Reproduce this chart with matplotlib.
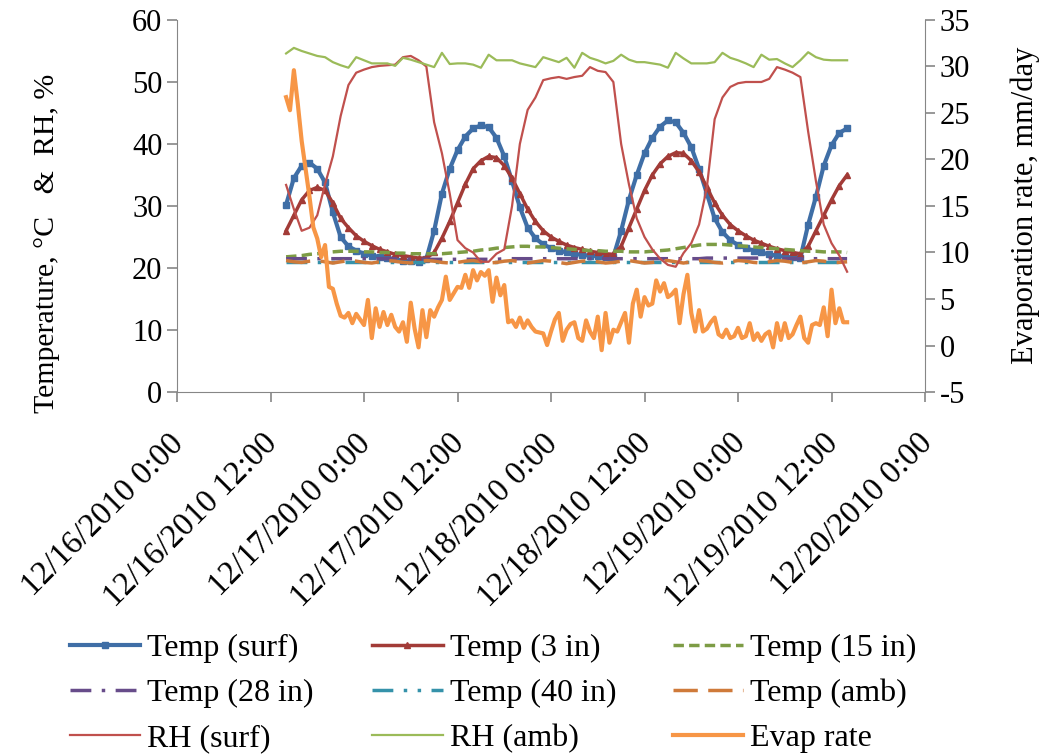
import numpy as np
import pandas as pd
import matplotlib
matplotlib.use('Agg')
import matplotlib.pyplot as plt
import matplotlib.transforms as mtransforms

plt.rcParams['font.family'] = ['Liberation Serif', 'DejaVu Serif']

# hourly readings, 12/16 14:00 -> 12/19 14:00
temp_surf = [30.2, 34.5, 36.5, 37.0, 36.0, 33.8, 29.0, 25.0, 23.5, 22.8,
             22.3, 22.0, 21.8, 21.6, 21.4, 21.2, 21.1, 21.0, 21.5, 26.0,
             32.0, 36.0, 39.0, 41.2, 42.5, 43.0, 42.7, 41.0, 38.0, 34.0,
             29.8, 26.5, 24.8, 23.8, 23.2, 22.8, 22.5, 22.3, 22.1, 22.0,
             21.9, 21.8, 21.8, 26.0, 31.0, 35.0, 38.5, 41.0, 42.8, 43.8,
             43.5, 41.8, 39.5, 36.0, 32.0, 28.0, 25.8, 24.5, 23.7, 23.2,
             22.8, 22.5, 22.2, 22.0, 21.8, 21.7, 21.6, 27.0, 31.5, 36.5,
             39.8, 41.8, 42.5]
temp_3in = [26.0, 28.5, 31.0, 32.5, 33.0, 32.5, 30.5, 28.0, 26.5, 25.2,
            24.3, 23.6, 23.0, 22.6, 22.2, 22.0, 21.8, 21.6, 21.6, 22.5,
            24.8, 27.5, 30.5, 33.5, 36.0, 37.3, 38.0, 37.8, 36.5, 34.5,
            32.0, 29.5, 27.5, 26.0, 25.0, 24.3, 23.7, 23.3, 23.0, 22.7,
            22.5, 22.3, 22.2, 23.5, 26.5, 29.5, 32.5, 35.0, 36.8, 38.0,
            38.6, 38.5, 37.3, 35.5, 33.0, 30.5, 28.5, 27.0, 26.0, 25.2,
            24.5, 24.0, 23.5, 23.1, 22.8, 22.5, 22.3, 23.5, 26.0, 28.5,
            31.0, 33.3, 35.0]
temp_15in = [21.8, 21.9, 22.0, 22.2, 22.3, 22.5, 22.6, 22.7, 22.7, 22.7,
             22.6, 22.6, 22.5, 22.5, 22.4, 22.4, 22.3, 22.3, 22.3, 22.3,
             22.3, 22.4, 22.5, 22.6, 22.7, 22.9, 23.0, 23.2, 23.3, 23.4,
             23.5, 23.5, 23.4, 23.4, 23.3, 23.2, 23.1, 23.0, 22.9, 22.8,
             22.8, 22.7, 22.7, 22.7, 22.6, 22.6, 22.6, 22.7, 22.8, 22.9,
             23.1, 23.3, 23.5, 23.7, 23.8, 23.8, 23.8, 23.7, 23.6, 23.5,
             23.4, 23.3, 23.2, 23.1, 23.0, 22.9, 22.8, 22.7, 22.7, 22.6,
             22.6, 22.6, 22.5]
temp_28in = [21.5, 21.5, 21.5, 21.5, 21.5, 21.5, 21.5, 21.5, 21.5, 21.5,
             21.5, 21.5, 21.5, 21.5, 21.5, 21.5, 21.4, 21.4, 21.4, 21.4,
             21.4, 21.4, 21.4, 21.4, 21.4, 21.4, 21.4, 21.4, 21.5, 21.5,
             21.5, 21.5, 21.5, 21.5, 21.5, 21.5, 21.5, 21.5, 21.5, 21.5,
             21.5, 21.5, 21.5, 21.5, 21.5, 21.5, 21.5, 21.5, 21.5, 21.5,
             21.5, 21.5, 21.5, 21.5, 21.6, 21.6, 21.6, 21.6, 21.6, 21.6,
             21.6, 21.6, 21.6, 21.6, 21.5, 21.5, 21.5, 21.5, 21.5, 21.5,
             21.5, 21.5, 21.5]
temp_40in = [20.9] * 73
temp_amb = [21.2, 21.0, 20.9, 21.1, 21.2, 21.0, 20.8, 21.0, 21.2, 21.1,
            20.9, 20.8, 21.0, 21.2, 21.1, 20.9, 20.8, 21.0, 21.2, 21.1,
            20.9, 20.8, 20.9, 21.1, 21.2, 21.0, 20.8, 20.9, 21.1, 21.2,
            21.0, 20.8, 21.0, 21.2, 21.1, 20.9, 20.7, 20.9, 21.1, 21.2,
            21.0, 20.8, 20.9, 21.1, 21.2, 21.0, 20.8, 20.9, 21.1, 21.2,
            21.0, 20.8, 21.0, 21.2, 21.1, 20.9, 20.8, 21.0, 21.2, 21.1,
            20.9, 20.8, 21.0, 21.2, 21.1, 20.9, 20.8, 21.0, 21.2, 21.1,
            20.9, 20.9, 21.0]
rh_surf = [33.4, 29.5, 26.0, 26.5, 28.5, 33.5, 38.0, 44.5, 49.5, 51.5,
           52.0, 52.4, 52.6, 52.7, 52.8, 54.0, 54.2, 53.5, 52.5, 43.5,
           38.5, 32.0, 24.5, 23.2, 22.5, 21.0, 21.0, 22.3, 23.0, 30.0,
           40.0, 45.5, 47.5, 50.3, 50.6, 50.8, 50.5, 50.8, 51.0, 52.4,
           51.8, 51.6, 50.0, 40.0, 33.5, 28.0, 25.0, 23.0, 21.5, 20.5,
           20.2, 22.4, 24.0, 27.0, 33.0, 44.0, 47.5, 49.2, 49.8, 50.0,
           50.0, 50.0, 50.5, 52.4, 52.0, 51.5, 50.8, 42.0, 34.0, 27.0,
           24.0, 22.0, 19.4]
rh_amb = [54.6, 55.5, 55.0, 54.6, 54.2, 54.0, 53.2, 52.7, 52.3, 54.0,
          53.5, 53.0, 53.0, 53.0, 52.6, 53.9, 53.6, 53.2, 52.8, 52.4,
          54.7, 52.9, 53.0, 53.0, 52.8, 52.3, 54.4, 53.5, 53.5, 53.5,
          53.0, 52.7, 52.4, 54.0, 53.6, 53.2, 53.9, 52.3, 54.7, 53.9,
          53.5, 53.0, 53.4, 54.4, 53.6, 53.2, 53.2, 53.0, 52.8, 52.3,
          54.7, 53.8, 53.0, 53.0, 53.0, 53.2, 54.7, 53.9, 53.5, 53.0,
          52.4, 54.4, 53.6, 53.7, 53.0, 52.4, 53.5, 54.8, 54.0, 53.6,
          53.5, 53.5, 53.5]

# evaporation rate, every 30 min
evap = [26.7, 25.3, 29.6, 26.0, 22.0, 19.0, 16.0, 12.7, 11.5, 9.5,
        10.8, 6.3, 6.1, 4.5, 3.2, 3.0, 3.5, 2.4, 3.4, 2.8,
        2.2, 4.9, 0.8, 4.0, 2.0, 3.6, 2.2, 3.3, 2.0, 1.5,
        2.5, 0.4, 4.6, 1.8, -0.2, 3.8, 0.9, 3.8, 3.1, 4.1,
        4.9, 7.4, 4.9, 5.6, 6.3, 6.2, 7.6, 6.2, 8.1, 7.0,
        7.9, 7.5, 8.1, 4.7, 7.3, 5.4, 6.5, 2.5, 2.7, 2.0,
        3.0, 1.9, 2.7, 2.0, 1.5, 1.4, 1.3, 0.05, 1.5, 2.8,
        3.5, 0.5, 1.7, 2.3, 2.5, 0.8, 0.5, 2.7, 1.5, 0.8,
        3.1, -0.5, 3.5, 0.3, 1.7, 1.5, 2.5, 3.5, 0.3, 4.5,
        6.0, 3.1, 5.2, 4.3, 4.5, 7.0, 5.8, 6.7, 5.2, 5.5,
        6.0, 2.4, 5.5, 7.6, 3.5, 1.5, 3.8, 1.5, 1.8, 2.5,
        3.0, 1.2, 0.9, 1.7, 0.8, 1.0, 1.9, 0.8, 1.0, 2.4,
        0.6, 1.3, 0.5, 1.2, 1.5, -0.2, 2.4, 0.6, 2.4, 0.8,
        1.2, 2.2, 3.1, 0.8, 0.3, 2.2, 2.4, 2.2, 4.1, 1.0,
        6.0, 2.4, 4.0, 2.5, 2.5]

t_hour = pd.date_range('2010-12-16 14:00', periods=len(temp_surf), freq='1h')
t_half = pd.date_range('2010-12-16 14:00', periods=len(evap), freq='30min')

tick_times = pd.date_range('2010-12-16 00:00', '2010-12-20 00:00', freq='12h')
tick_labels = ['12/16/2010 0:00', '12/16/2010 12:00', '12/17/2010 0:00',
               '12/17/2010 12:00', '12/18/2010 0:00', '12/18/2010 12:00',
               '12/19/2010 0:00', '12/19/2010 12:00', '12/20/2010 0:00']

FS = 22

fig = plt.figure(figsize=(10.43, 7.54), dpi=100)
ax = fig.add_axes([0.1697, 0.4801, 0.7172, 0.4934])
ax2 = ax.twinx()

h1, = ax.plot(t_hour, temp_surf, color='#3f6ea6', lw=3, marker='s', ms=4.5, label='Temp (surf)')
h2, = ax.plot(t_hour, temp_3in, color='#a23b37', lw=2.5, marker='^', ms=4.5, label='Temp (3 in)')
h3, = ax.plot(t_hour, temp_15in, color='#7d9c45', lw=2.5, ls=(0, (3, 1.5)), label='Temp (15 in)')
h4, = ax.plot(t_hour, temp_28in, color='#674c8a', lw=2.5, ls=(0, (6, 3, 1, 3)), label='Temp (28 in)')
h5, = ax.plot(t_hour, temp_40in, color='#3592aa', lw=2.5, ls=(0, (6, 3, 1, 3, 1, 3)), label='Temp (40 in)')
h6, = ax.plot(t_hour, temp_amb, color='#cf7a3a', lw=2.5, ls=(0, (7, 3)), label='Temp (amb)')
h7, = ax.plot(t_hour, rh_surf, color='#c0504d', lw=1.6, label='RH (surf)')
h8, = ax.plot(t_hour, rh_amb, color='#9bbb59', lw=1.6, label='RH (amb)')
h9, = ax2.plot(t_half, evap, color='#f79646', lw=3, label='Evap rate')

ax.set_xlim(tick_times[0], tick_times[-1])
ax.set_ylim(0, 60)
ax.set_yticks(range(0, 61, 10))
ax2.set_ylim(-5, 35)
ax2.set_yticks(range(-5, 36, 5))
ax2.set_yticklabels([str(v) for v in range(-5, 36, 5)])
ax.set_xticks(tick_times)
ax.set_xticklabels(tick_labels, rotation=45, ha='right', va='top', rotation_mode='anchor')

for a in (ax, ax2):
    a.spines['top'].set_visible(False)
    for s in ('left', 'right', 'bottom'):
        a.spines[s].set_color('#868686')
    a.tick_params(axis='both', colors='#868686', labelcolor='black', labelsize=FS,
                  length=7, width=1.2)
ax.spines['right'].set_visible(False)
ax2.spines['left'].set_visible(False)
ax2.spines['bottom'].set_visible(False)
ax.tick_params(axis='x', pad=19, labelsize=23.5)
shift = mtransforms.ScaledTranslation(-6 / 72, 0, fig.dpi_scale_trans)
for lab in ax.get_xticklabels():
    lab.set_transform(lab.get_transform() + shift)

ax.set_ylabel('Temperature, °C   &  RH, %', fontsize=21.5, va='center', ha='center')
ax.yaxis.set_label_coords(-0.174, 0.40)
ax2.set_ylabel('Evaporation rate, mm/day', fontsize=FS, va='center', ha='center')
ax2.yaxis.set_label_coords(1.134, 0.503)

# legend in three separate columns, filled row by row like the original
columns = [[h1, h4, h7], [h2, h5, h8], [h3, h6, h9]]
col_x = [0.067, 0.357, 0.645]
for hs, x in zip(columns, col_x):
    fig.legend(hs, [h.get_label() for h in hs], loc='upper left',
               bbox_to_anchor=(x, 0.159), frameon=False, fontsize=23,
               borderpad=0, borderaxespad=0, handlelength=2.2,
               handletextpad=0.22, labelspacing=0.48)

fig.savefig('out.png', dpi=100)
